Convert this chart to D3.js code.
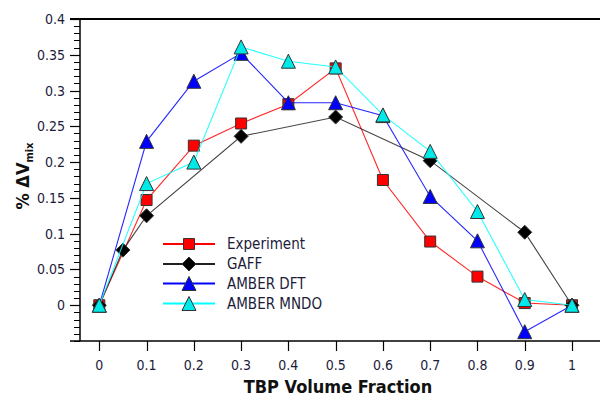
<!DOCTYPE html>
<html>
<head>
<meta charset="utf-8">
<script src="https://cdn.jsdelivr.net/npm/d3@7"></script>
<style>
  html, body { margin: 0; padding: 0; background: #fff; }
  svg { display: block; }
  .tick-label { font-family: "DejaVu Sans Condensed", "DejaVu Sans", sans-serif; font-stretch: condensed; font-size: 14px; fill: #1c1c3a; }
  .legend-label { font-family: "DejaVu Sans Condensed", "DejaVu Sans", sans-serif; font-stretch: condensed; font-size: 15px; fill: #1c1c3a; }
  .axis-title { font-family: "DejaVu Sans Condensed", "DejaVu Sans", sans-serif; font-stretch: condensed; font-weight: bold; fill: #111; }
</style>
</head>
<body>
<svg id="chart" width="600" height="396"></svg>
<script>
// ---- data ----
const seriesNames = ["Experiment", "GAFF", "AMBER DFT", "AMBER MNDO"];
const expX   = [0, 0.1, 0.2, 0.3, 0.4, 0.5, 0.6, 0.7, 0.8, 0.9, 1.0];
const expY   = [0, 0.147, 0.223, 0.254, 0.281, 0.331, 0.175, 0.089, 0.040, 0.003, 0];
const gaffX  = [0, 0.05, 0.1, 0.3, 0.5, 0.7, 0.9, 1.0];
const gaffY  = [0, 0.077, 0.125, 0.236, 0.263, 0.202, 0.102, 0];
const dftX   = [0, 0.1, 0.2, 0.3, 0.4, 0.5, 0.6, 0.7, 0.8, 0.9, 1.0];
const dftY   = [0, 0.229, 0.313, 0.352, 0.283, 0.283, 0.265, 0.152, 0.090, -0.037, 0];
const mndoX  = [0, 0.1, 0.2, 0.3, 0.4, 0.5, 0.6, 0.7, 0.8, 0.9, 1.0];
const mndoY  = [0, 0.170, 0.200, 0.361, 0.341, 0.333, 0.266, 0.215, 0.131, 0.008, 0];
const xTicks = [0, 0.1, 0.2, 0.3, 0.4, 0.5, 0.6, 0.7, 0.8, 0.9, 1];
const xTickLabels = ["0", "0.1", "0.2", "0.3", "0.4", "0.5", "0.6", "0.7", "0.8", "0.9", "1"];
const yTicks = [0, 0.05, 0.1, 0.15, 0.2, 0.25, 0.3, 0.35, 0.4];
const yTickLabels = ["0", "0.05", "0.1", "0.15", "0.2", "0.25", "0.3", "0.35", "0.4"];
const yMinorTicks = d3.range(-5, 41).map(i => i / 100);

// ---- styles ----
const styles = [
  { color: "#ff0000", marker: "square",   fill: "#ff0000" },
  { color: "#222222", marker: "diamond",  fill: "#000000" },
  { color: "#0000ff", marker: "triangle", fill: "#0000ff" },
  { color: "#00ffff", marker: "triangle", fill: "#00e8e8" }
];
const seriesData = [
  expX.map((x, i) => ({ x, y: expY[i] })),
  gaffX.map((x, i) => ({ x, y: gaffY[i] })),
  dftX.map((x, i) => ({ x, y: dftY[i] })),
  mndoX.map((x, i) => ({ x, y: mndoY[i] }))
];

const svg = d3.select("#chart");
const x = d3.scaleLinear().domain([0, 1]).range([99.3, 572]);
const y = d3.scaleLinear().domain([-0.05, 0.4]).range([341, 19]);

function markerPath(type) {
  if (type === "square") { const h = 5.5; return `M${-h},${-h}H${h}V${h}H${-h}Z`; }
  if (type === "diamond") { const h = 7; return `M0,${-h}L${h},0L0,${h}L${-h},0Z`; }
  const w = 7, hh = 7; return `M0,${-hh}L${w},${hh}L${-w},${hh}Z`;
}

// ---- axes frame ----
const axisG = svg.append("g");
// top line
axisG.append("line").attr("x1", 70).attr("x2", 600).attr("y1", y(0.4)).attr("y2", y(0.4))
  .attr("stroke", "#000").attr("stroke-width", 2);
// left axis
axisG.append("line").attr("x1", 80).attr("x2", 80).attr("y1", y(0.4)).attr("y2", 341)
  .attr("stroke", "#000").attr("stroke-width", 1.5);
// bottom axis
axisG.append("line").attr("x1", 70).attr("x2", 600).attr("y1", 341).attr("y2", 341)
  .attr("stroke", "#000").attr("stroke-width", 1.5);

// y minor ticks
axisG.selectAll(".ymin").data(yMinorTicks).enter().append("line")
  .attr("x1", 74).attr("x2", 80)
  .attr("y1", d => Math.round(y(d)) + 0.5).attr("y2", d => Math.round(y(d)) + 0.5)
  .attr("stroke", "#000").attr("stroke-width", 1);
// y major ticks
axisG.selectAll(".ymaj").data(yTicks).enter().append("line")
  .attr("x1", 70).attr("x2", 80)
  .attr("y1", d => Math.round(y(d)) + 0.5).attr("y2", d => Math.round(y(d)) + 0.5)
  .attr("stroke", "#000").attr("stroke-width", 1.2);
axisG.selectAll(".ylab").data(yTicks).enter().append("text")
  .attr("class", "tick-label")
  .attr("x", 65).attr("y", d => y(d)).attr("dy", "0.36em")
  .attr("text-anchor", "end")
  .text((d, i) => yTickLabels[i]);

// x ticks
axisG.selectAll(".xmaj").data(xTicks).enter().append("line")
  .attr("x1", d => Math.round(x(d)) + 0.5).attr("x2", d => Math.round(x(d)) + 0.5)
  .attr("y1", 341).attr("y2", 351)
  .attr("stroke", "#000").attr("stroke-width", 1.2);
axisG.selectAll(".xlab").data(xTicks).enter().append("text")
  .attr("class", "tick-label")
  .attr("x", d => x(d)).attr("y", 370)
  .attr("text-anchor", "middle")
  .text((d, i) => xTickLabels[i]);

// axis titles
svg.append("text").attr("class", "axis-title").attr("font-size", 18)
  .attr("x", 338).attr("y", 393).attr("text-anchor", "middle")
  .text("TBP Volume Fraction");
const yt = svg.append("text").attr("class", "axis-title").attr("font-size", 18)
  .attr("transform", "translate(29,176) rotate(-90)").attr("text-anchor", "middle");
yt.append("tspan").text("% ΔV");
yt.append("tspan").attr("font-size", 11).attr("dy", 4).text("mix");

// ---- series ----
const line = d3.line().x(d => x(d.x)).y(d => y(d.y));
seriesData.forEach((data, si) => {
  const st = styles[si];
  const g = svg.append("g");
  g.append("path").datum(data).attr("d", line)
    .attr("fill", "none").attr("stroke", st.color).attr("stroke-width", 1.1).attr("stroke-opacity", 0.85);
  g.selectAll("path.m").data(data).enter().append("path").attr("class", "m")
    .attr("transform", d => `translate(${x(d.x)},${y(d.y)})`)
    .attr("d", markerPath(st.marker))
    .attr("fill", st.fill).attr("stroke", "#333").attr("stroke-width", 1);
});

// ---- legend ----
const legendRows = [244, 264, 283.5, 303.5];
const lg = svg.append("g");
seriesNames.forEach((name, i) => {
  const st = styles[i];
  const yy = legendRows[i];
  lg.append("line").attr("x1", 163).attr("x2", 215).attr("y1", yy).attr("y2", yy)
    .attr("stroke", st.color).attr("stroke-width", 2);
  lg.append("path").attr("transform", `translate(189,${yy})`).attr("d", markerPath(st.marker))
    .attr("fill", st.fill).attr("stroke", "#333").attr("stroke-width", 1);
  lg.append("text").attr("class", "legend-label").attr("x", 227).attr("y", yy).attr("dy", "0.36em")
    .text(name);
});
</script>
</body>
</html>
